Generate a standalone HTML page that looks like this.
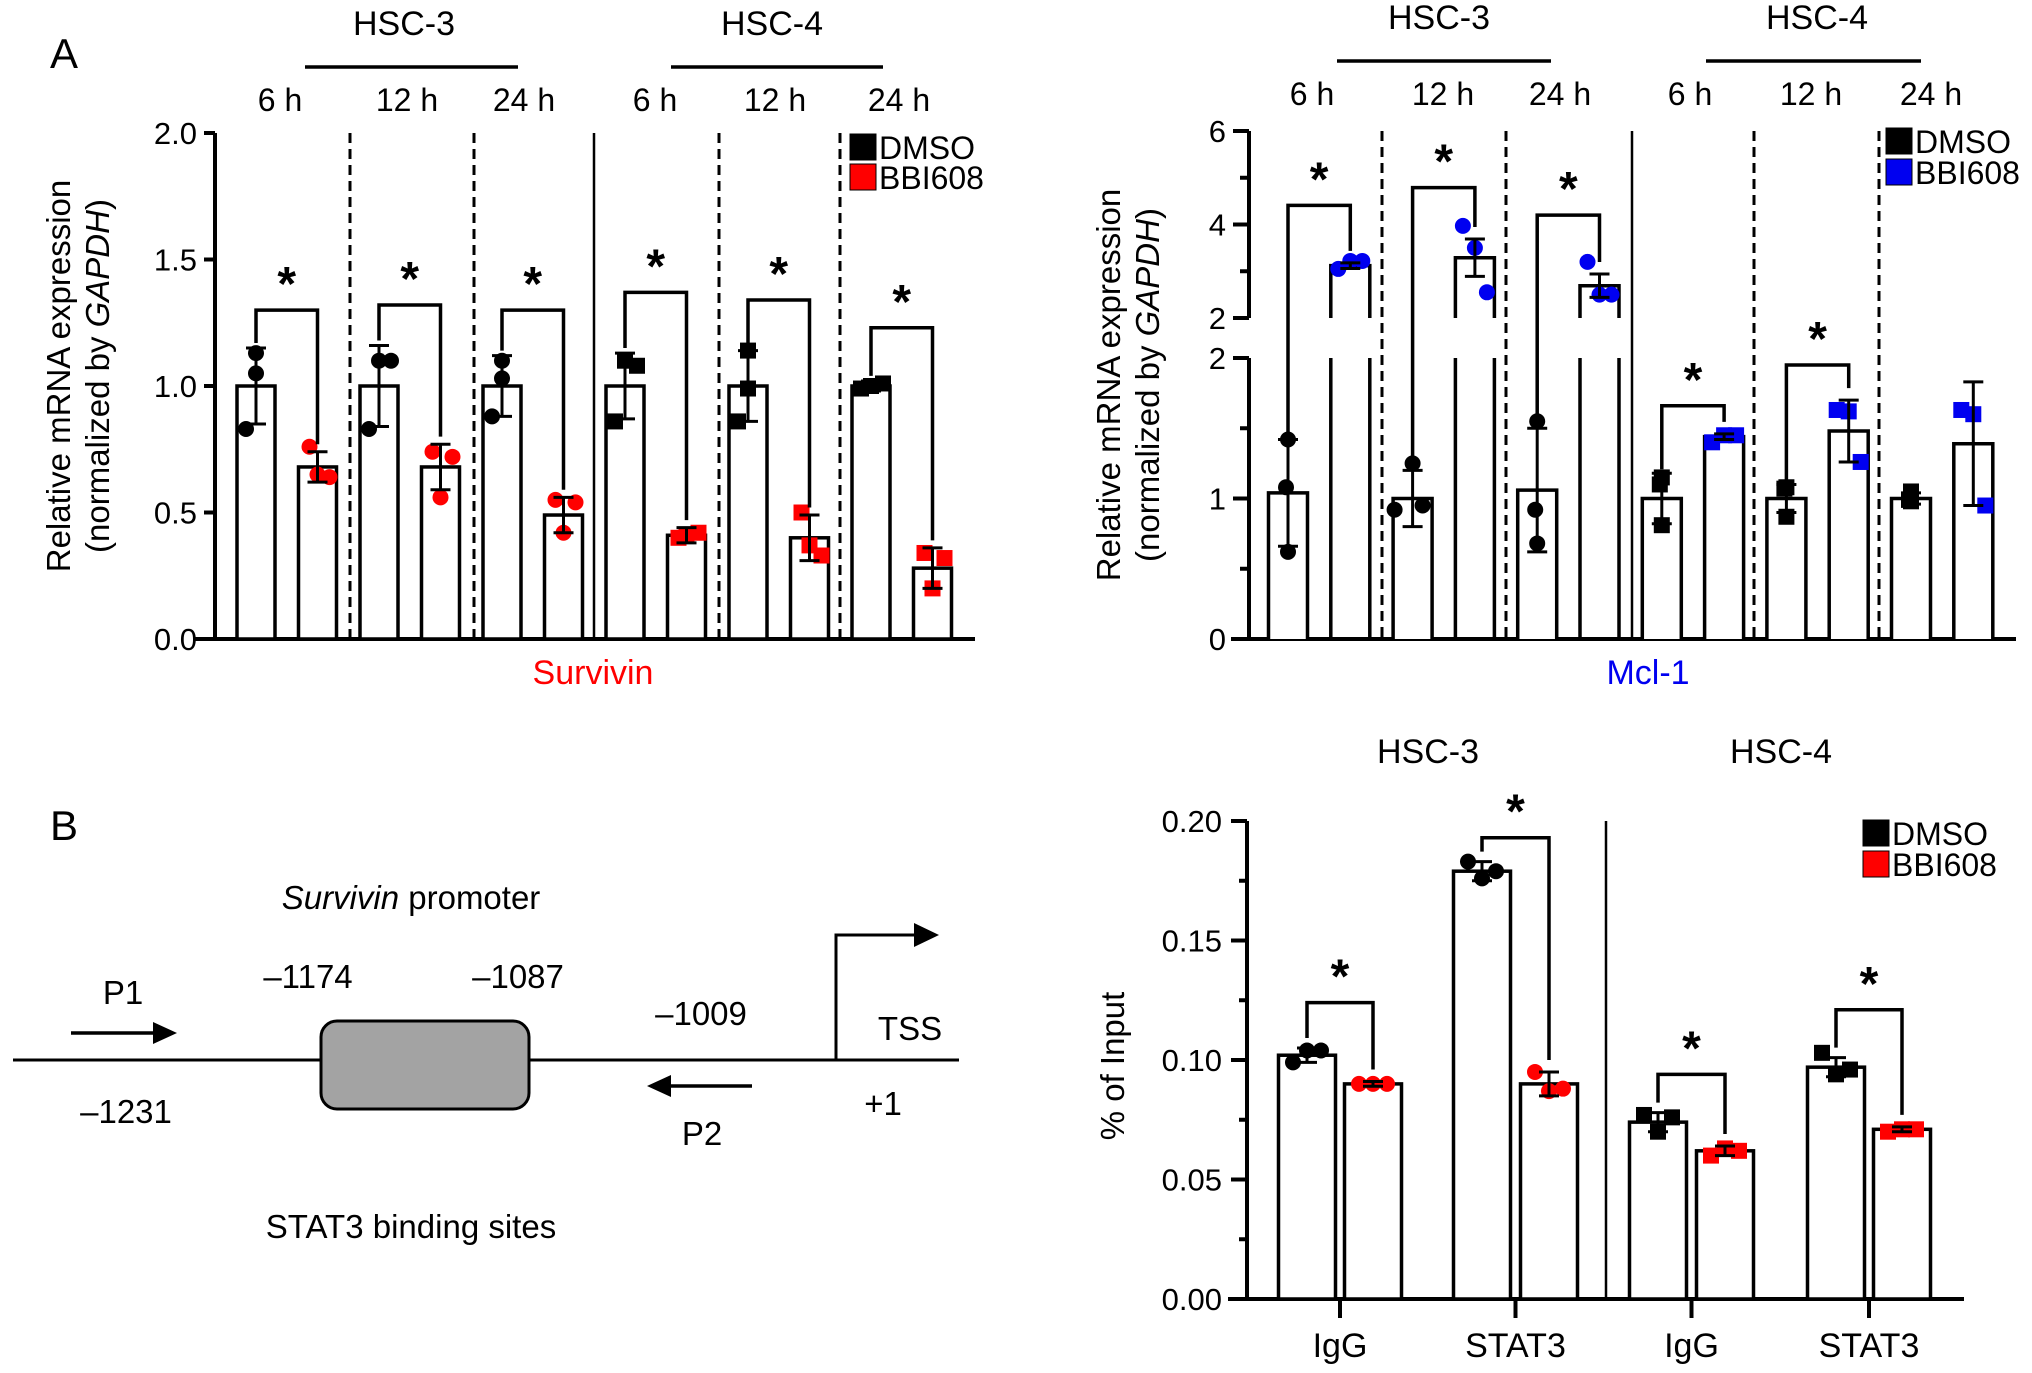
<!DOCTYPE html>
<html><head><meta charset="utf-8"><style>
html,body{margin:0;padding:0;background:#fff}
svg{display:block;font-family:"Liberation Sans",Arial,sans-serif}
</style></head><body>
<svg id="fig" width="2032" height="1373" viewBox="0 0 2032 1373" xmlns="http://www.w3.org/2000/svg">
<rect width="2032" height="1373" fill="#fff"/>
<text x="50" y="68" font-size="42">A</text>
<text x="50" y="840" font-size="42">B</text>
<g font-size="33" fill="#000">
<text x="411" y="909" text-anchor="middle"><tspan font-style="italic">Survivin</tspan> promoter</text>
<line x1="13" y1="1060" x2="959" y2="1060" stroke="#000" stroke-width="3"/>
<rect x="321" y="1021" width="208" height="88" rx="16" fill="#a3a3a3" stroke="#000" stroke-width="3"/>
<text x="123" y="1004" text-anchor="middle">P1</text>
<line x1="71" y1="1033" x2="158" y2="1033" stroke="#000" stroke-width="3.5"/>
<polygon points="177,1033 153,1022 153,1044" fill="#000"/>
<text x="308" y="988" text-anchor="middle">–1174</text>
<text x="518" y="988" text-anchor="middle">–1087</text>
<text x="701" y="1025" text-anchor="middle">–1009</text>
<text x="126" y="1123" text-anchor="middle">–1231</text>
<line x1="752" y1="1086" x2="668" y2="1086" stroke="#000" stroke-width="3.5"/>
<polygon points="647,1086 671,1075 671,1097" fill="#000"/>
<text x="702" y="1145" text-anchor="middle">P2</text>
<polyline points="836,1060 836,935 918,935" fill="none" stroke="#000" stroke-width="3"/>
<polygon points="939,935 914,923 914,947" fill="#000"/>
<text x="910" y="1040" text-anchor="middle">TSS</text>
<text x="883" y="1115" text-anchor="middle">+1</text>
<text x="411" y="1238" text-anchor="middle">STAT3 binding sites</text>
</g>
<g id="g1"></g>
<g id="g2"></g>
<g id="g3"></g>
</svg>
<script>
// Survivin data
const sCats=['6 h','12 h','24 h','6 h','12 h','24 h'];
const sDmso=[1,1,1,1,1,1];
const sDmsoSd=[0.15,0.16,0.12,0.13,0.14,0.02];
const sBbi=[0.68,0.68,0.49,0.41,0.40,0.28];
const sBbiSd=[0.06,0.09,0.07,0.03,0.09,0.08];
const sBracket=[1.30,1.32,1.30,1.37,1.34,1.23];
const sDmsoPts=[[1.13,1.05,0.83],[1.10,1.10,0.83],[1.10,1.03,0.88],[1.10,1.08,0.86],[1.14,0.99,0.86],[1.0,1.01,0.99]];
const sBbiPts=[[0.76,0.64,0.65],[0.74,0.72,0.56],[0.55,0.54,0.42],[0.40,0.42,0.41],[0.50,0.33,0.37],[0.34,0.32,0.20]];
const sTicks=[0,0.5,1,1.5,2];
const sTickLabels=['0.0','0.5','1.0','1.5','2.0'];
// Mcl-1 data
const mCats=['6 h','12 h','24 h','6 h','12 h','24 h'];
const mDmso=[1.04,1.0,1.06,1.0,1.0,1.0];
const mDmsoSd=[0.38,0.2,0.44,0.18,0.1,0.04];
const mBbi=[3.12,3.29,2.69,1.44,1.48,1.39];
const mBbiSd=[0.06,0.4,0.25,0.02,0.22,0.44];
const mBracket=[4.41,4.79,4.2,1.66,1.95,null];
const mDmsoPts=[[1.42,1.08,0.62],[1.25,0.95,0.92],[1.55,0.92,0.68],[1.15,1.1,0.81],[1.08,1.07,0.87],[1.05,0.99,0.98]];
const mBbiPts=[[3.05,3.22,3.22],[3.97,3.5,2.55],[3.2,2.5,2.5],[1.4,1.45,1.45],[1.63,1.62,1.26],[1.63,1.6,0.95]];
const mTicksLow=[0,1,2];
const mTicksHigh=[2,4,6];
// ChIP data
const cCats=['IgG','STAT3','IgG','STAT3'];
const cDmso=[0.102,0.179,0.074,0.097];
const cDmsoSd=[0.003,0.004,0.004,0.004];
const cBbi=[0.090,0.090,0.062,0.071];
const cBbiSd=[0.001,0.005,0.002,0.001];
const cBracket=[0.124,0.193,0.094,0.121];
const cDmsoPts=[[0.099,0.104,0.104],[0.183,0.176,0.179],[0.077,0.070,0.076],[0.103,0.094,0.096]];
const cBbiPts=[[0.09,0.09,0.09],[0.095,0.087,0.088],[0.060,0.063,0.062],[0.070,0.071,0.071]];
const cTicks=[0,0.05,0.1,0.15,0.2];
const cTickLabels=['0.00','0.05','0.10','0.15','0.20'];

const NS='http://www.w3.org/2000/svg';
function mk(tag,attrs,parent){const e=document.createElementNS(NS,tag);for(const k in attrs)e.setAttribute(k,attrs[k]);parent.appendChild(e);return e;}
function txt(s,attrs,parent){const e=mk('text',attrs,parent);e.textContent=s;return e;}
const K='#000';
const TF=31;

function marker(g,shape,cx,cy,color){
  let e;
  if(shape==='c'){e=mk('circle',{cx:cx,cy:cy,r:8,fill:color},g);}
  else{e=mk('rect',{x:cx-8,y:cy-8,width:16,height:16,fill:color},g);}
  
  
}
function errbar(g,cx,y1,y2){
  const p=mk('path',{d:`M${cx} ${y1}V${y2}M${cx-10} ${y1}H${cx+10}M${cx-10} ${y2}H${cx+10}`,stroke:K,'stroke-width':3,fill:'none'},g);
  
  
}
function bracket(g,xl,xr,yt,yl,yr,fs){
  const p=mk('path',{d:`M${xl} ${yl}V${yt}H${xr}V${yr}`,stroke:K,'stroke-width':3.5,fill:'none'},g);
  
  
  const t=txt('*',{x:(xl+xr)/2,y:yt-10,'font-size':fs||48,'font-weight':'bold','text-anchor':'middle'},g);
  
  
}
function legend(g,x,y,color,gap){
  [['DMSO',K],['BBI608',color]].forEach((d,i)=>{
    const r=mk('rect',{x:x,y:y+i*gap,width:26,height:26,fill:d[1],stroke:'#000','stroke-width':1},g);
    
    
    const t=txt(d[0],{x:x+29,y:y+i*gap+25,'font-size':32},g);
    
    
  });
}
function ytitle(g,x,y,l1,l2){
  const t=txt('',{transform:`translate(${x},${y}) rotate(-90)`,'font-size':33,'text-anchor':'middle'},g);
  
  
  const a=mk('tspan',{x:0,dy:0},t);a.textContent=l1;
  if(l2){const b=mk('tspan',{x:0,dy:39},t);b.textContent='(normalized by ';const c=mk('tspan',{'font-style':'italic'},t);c.textContent='GAPDH';const d=mk('tspan',{},t);d.textContent=')';}
}
function headers(g,cells,lines,cols,yCell,yTime,cats){
  [['HSC-3',cells[0],lines[0]],['HSC-4',cells[1],lines[1]]].forEach(h=>{
    const t=txt(h[0],{x:h[1],y:yCell,'font-size':34,'text-anchor':'middle'},g);
    
    
    const l=mk('line',{x1:h[2][0],x2:h[2][1],y1:yCell+32,y2:yCell+32,stroke:K,'stroke-width':3.5},g);
    
    
  });
  cats.forEach((c,i)=>{
    const t=txt(c,{x:cols[i],y:yTime,'font-size':32,'text-anchor':'middle'},g);
    
    
  });
}

// ---------- Survivin ----------
(function(){
  const g=document.getElementById('g1');
  const y=v=>639-v*253;
  const cx=i=>256+i*61.5;
  const bw=38;
  const ax=mk('path',{d:'M215 133V639M195 639H975',stroke:K,'stroke-width':4,fill:'none'},g);
  
  
  sTicks.forEach((v,i)=>{
    mk('line',{x1:204,x2:215,y1:y(v),y2:y(v),stroke:K,'stroke-width':4},g);
    const t=txt(sTickLabels[i],{x:197,y:y(v)+11,'font-size':TF,'text-anchor':'end'},g);
    
    
  });
  [350,474,719,840].forEach(x=>mk('line',{x1:x,x2:x,y1:133,y2:639,stroke:K,'stroke-width':3,'stroke-dasharray':'10 6'},g));
  mk('line',{x1:594,x2:594,y1:133,y2:639,stroke:K,'stroke-width':2.5},g);
  sCats.forEach((c,i)=>{
    const xd=cx(2*i),xb=cx(2*i+1);
    const shape=i<3?'c':'s';
    const b1=mk('rect',{x:xd-bw/2,y:y(sDmso[i]),width:bw,height:639-y(sDmso[i]),fill:'#fff',stroke:K,'stroke-width':3.5},g);
    
    
    const b2=mk('rect',{x:xb-bw/2,y:y(sBbi[i]),width:bw,height:639-y(sBbi[i]),fill:'#fff',stroke:K,'stroke-width':3.5},g);
    
    
    sDmsoPts[i].forEach((v,j)=>marker(g,shape,xd+[0,0,-10][j]+(j===1?(i%2?12:0):0),y(v),K));
    errbar(g,xd,y(sDmso[i]+sDmsoSd[i]),y(sDmso[i]-sDmsoSd[i]));
    sBbiPts[i].forEach((v,j)=>marker(g,shape,xb+[-8,12,0][j],y(v),'#f00'));
    errbar(g,xb,y(sBbi[i]+sBbiSd[i]),y(sBbi[i]-sBbiSd[i]));
    bracket(g,xd,xb,y(sBracket[i]),y(sDmso[i]+sDmsoSd[i]+0.02),y(sBbi[i]+sBbiSd[i]+0.03));
  });
  headers(g,[404,772],[[305,518],[671,883]],[280,407,524,655,775,899],35,111,sCats);
  legend(g,850,134,'#f00',30);
  ytitle(g,70,376,'Relative mRNA expression',true);
  const t=txt('Survivin',{x:593,y:684,'font-size':34,fill:'#f00','text-anchor':'middle'},g);
  
  
})();

// ---------- Mcl-1 ----------
(function(){
  const g=document.getElementById('g2');
  const yL=v=>639-v*140.5;
  const yU=v=>318-(v-2)*46.75;
  const y=v=>v<=2?yL(v):yU(v);
  const cx=i=>1288+i*62.3;
  const bw=39;
  const ax=mk('path',{d:'M1249 131V318M1249 358V639M1231 639H2016',stroke:K,'stroke-width':4,fill:'none'},g);
  
  
  mTicksHigh.forEach(v=>{
    mk('line',{x1:1233,x2:1249,y1:yU(v),y2:yU(v),stroke:K,'stroke-width':4},g);
    const t=txt(String(v),{x:1226,y:yU(v)+11,'font-size':TF,'text-anchor':'end'},g);
    
    
  });
  [3,5].forEach(v=>mk('line',{x1:1240,x2:1249,y1:yU(v),y2:yU(v),stroke:K,'stroke-width':4},g));
  mTicksLow.forEach(v=>{
    mk('line',{x1:1233,x2:1249,y1:yL(v),y2:yL(v),stroke:K,'stroke-width':4},g);
    const t=txt(String(v),{x:1226,y:yL(v)+11,'font-size':TF,'text-anchor':'end'},g);
    
    
  });
  [0.5,1.5].forEach(v=>mk('line',{x1:1240,x2:1249,y1:yL(v),y2:yL(v),stroke:K,'stroke-width':4},g));
  [1382,1506,1754,1879].forEach(x=>mk('line',{x1:x,x2:x,y1:131,y2:639,stroke:K,'stroke-width':3,'stroke-dasharray':'10 6'},g));
  mk('line',{x1:1632,x2:1632,y1:131,y2:639,stroke:K,'stroke-width':2.5},g);
  function bar(xc,v,name){
    let d;
    if(v<=2){d=`M${xc-bw/2} 639V${yL(v)}H${xc+bw/2}V639`;}
    else{d=`M${xc-bw/2} 318V${yU(v)}H${xc+bw/2}V318M${xc-bw/2} 358V639M${xc+bw/2} 358V639`;}
    const p=mk('path',{d:d,fill:'#fff',stroke:K,'stroke-width':3.5},g);
    
    
  }
  mCats.forEach((c,i)=>{
    const xd=cx(2*i),xb=cx(2*i+1);
    const shape=i<3?'c':'s';
    bar(xd,mDmso[i],'bar-dmso');
    bar(xb,mBbi[i],'bar-bbi608');
    mDmsoPts[i].forEach((v,j)=>marker(g,shape,xd+(j===1?(i===1?10:-2):0)+(j===2&&i===1?-18:0),y(v),K));
    errbar(g,xd,y(mDmso[i]+mDmsoSd[i]),y(mDmso[i]-mDmsoSd[i]));
    mBbiPts[i].forEach((v,j)=>marker(g,shape,xb+[-12,0,12][j],y(v),'#0000f0'));
    errbar(g,xb,y(mBbi[i]+mBbiSd[i]),y(mBbi[i]-mBbiSd[i]));
    if(mBracket[i]!==null){
      const yt=y(mBracket[i]);
      const yr=y(mBbi[i]+mBbiSd[i])-12;
      bracket(g,xd,xb,yt,y(mDmso[i]+mDmsoSd[i])-4,yr);
    }
  });
  headers(g,[1439,1817],[[1337,1551],[1706,1921]],[1312,1443,1560,1690,1811,1931],29,105,mCats);
  legend(g,1886,128,'#0000f0',31);
  ytitle(g,1120,385,'Relative mRNA expression',true);
  const t=txt('Mcl-1',{x:1648,y:684,'font-size':34,fill:'#0000f0','text-anchor':'middle'},g);
  
  
})();

// ---------- ChIP ----------
(function(){
  const g=document.getElementById('g3');
  const y=v=>1299-v*2390;
  const xD=[1307,1482,1658,1836], xB=[1373,1549,1725,1902];
  const bw=57;
  const ax=mk('path',{d:'M1247 821V1299M1228 1299H1964',stroke:K,'stroke-width':4,fill:'none'},g);
  
  
  cTicks.forEach((v,i)=>{
    mk('line',{x1:1231,x2:1247,y1:y(v),y2:y(v),stroke:K,'stroke-width':4},g);
    const t=txt(cTickLabels[i],{x:1222,y:y(v)+11,'font-size':TF,'text-anchor':'end'},g);
    
    
  });
  [0.025,0.075,0.125,0.175].forEach(v=>mk('line',{x1:1239,x2:1247,y1:y(v),y2:y(v),stroke:K,'stroke-width':4},g));
  mk('line',{x1:1606,x2:1606,y1:821,y2:1299,stroke:K,'stroke-width':2.5},g);
  cCats.forEach((c,i)=>{
    const xd=xD[i],xb=xB[i];
    const shape=i<2?'c':'s';
    const b1=mk('rect',{x:xd-bw/2,y:y(cDmso[i]),width:bw,height:1299-y(cDmso[i]),fill:'#fff',stroke:K,'stroke-width':3.5},g);
    
    
    const b2=mk('rect',{x:xb-bw/2,y:y(cBbi[i]),width:bw,height:1299-y(cBbi[i]),fill:'#fff',stroke:K,'stroke-width':3.5},g);
    
    
    cDmsoPts[i].forEach((v,j)=>marker(g,shape,xd+[-14,0,14][j],y(v),K));
    errbar(g,xd,y(cDmso[i]+cDmsoSd[i]),y(cDmso[i]-cDmsoSd[i]));
    cBbiPts[i].forEach((v,j)=>marker(g,shape,xb+[-14,0,14][j],y(v),'#f00'));
    errbar(g,xb,y(cBbi[i]+cBbiSd[i]),y(cBbi[i]-cBbiSd[i]));
    bracket(g,xd,xb,y(cBracket[i]),y(cDmso[i]+cDmsoSd[i])-10,y(cBbi[i]+cBbiSd[i])-12);
    const tk=mk('line',{x1:(xd+xb)/2,x2:(xd+xb)/2,y1:1299,y2:1318,stroke:K,'stroke-width':4},g);
    
    
    const t=txt(c,{x:(xd+xb)/2,y:1357,'font-size':34,'text-anchor':'middle'},g);
    
    
  });
  [['HSC-3',1428],['HSC-4',1781]].forEach(h=>{
    const t=txt(h[0],{x:h[1],y:763,'font-size':34,'text-anchor':'middle'},g);
    
    
  });
  legend(g,1863,820,'#f00',31);
  ytitle(g,1124,1066,'% of Input',false);
})();
</script>
</body></html>
